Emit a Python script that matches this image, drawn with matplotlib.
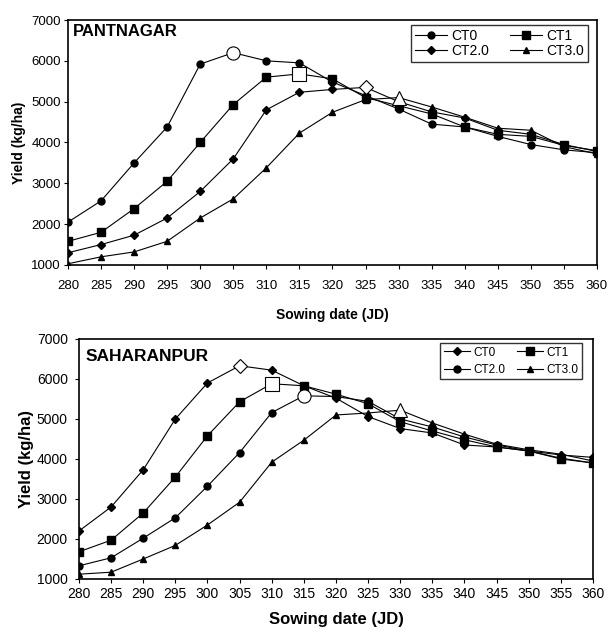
import matplotlib
matplotlib.use("Agg")
from matplotlib import pyplot as plt
import numpy as np

plt.rcParams['font.family'] = ['Liberation Sans', 'DejaVu Sans']

days = [280, 285, 290, 295, 300, 305, 310, 315, 320, 325, 330, 335, 340, 345, 350, 355, 360]

# Pantnagar
pant_ct0 = [2050, 2570, 3500, 4380, 5920, 6200, 6000, 5950, 5480, 5150, 4820, 4450, 4380, 4150, 3950, 3820, 3750]
pant_ct1 = [1580, 1800, 2380, 3050, 4000, 4930, 5600, 5680, 5560, 5100, 4900, 4700, 4380, 4200, 4150, 3930, 3800]
pant_ct2 = [1300, 1500, 1730, 2150, 2800, 3600, 4800, 5230, 5300, 5350, 5000, 4750, 4600, 4300, 4200, 3950, 3780]
pant_ct3 = [1030, 1200, 1320, 1580, 2150, 2620, 3380, 4230, 4740, 5050, 5100, 4870, 4620, 4350, 4300, 3900, 3720]

# Saharanpur
sah_ct0 = [2200, 2800, 3730, 5000, 5900, 6330, 6220, 5830, 5520, 5060, 4760, 4650, 4350, 4300, 4200, 4100, 4040]
sah_ct1 = [1680, 1970, 2650, 3550, 4580, 5430, 5880, 5830, 5620, 5380, 4930, 4700, 4480, 4300, 4200, 4000, 3900]
sah_ct2 = [1330, 1530, 2020, 2530, 3320, 4160, 5160, 5580, 5560, 5440, 5000, 4800, 4550, 4350, 4200, 4020, 3900]
sah_ct3 = [1120, 1170, 1500, 1840, 2350, 2920, 3920, 4470, 5100, 5150, 5220, 4900, 4620, 4370, 4230, 4120, 3950]

labels = ['CT0', 'CT1', 'CT2.0', 'CT3.0']

fig = plt.figure(figsize=(6.08, 6.35), dpi=100)


def draw_panel(ax, series, markers, sizes, title, cfg):
    handles = []
    for vals, lab, mk, ms in zip(series, labels, markers, sizes):
        h, = ax.plot(days, vals, color='black', lw=0.8, marker=mk, ms=ms, label=lab)
        handles.append(h)
        # open marker at the peak yield
        i = int(np.argmax(vals))
        ax.plot(days[i], vals[i], marker=mk, ms=ms * 1.9, mfc='white',
                mec='black', mew=0.8, ls='none')
    ax.set_xlim(280, 360)
    ax.set_ylim(1000, 7000)
    ax.set_xticks(days)
    ax.set_yticks(range(1000, 8000, 1000))
    ax.tick_params(direction='out', length=3, width=0.8, labelsize=cfg['tick'],
                   colors='black')
    ax.tick_params(axis='x', pad=cfg['xpad'])
    ax.tick_params(axis='y', pad=cfg['ypad'])
    for s in ax.spines.values():
        s.set_linewidth(1.2)
    ax.text(cfg['tx'], cfg['ty'], title, transform=ax.transAxes, fontsize=cfg['title'],
            fontweight='bold', va='top', ha='left')
    ax.set_xlabel('Sowing date (JD)', fontsize=cfg['label'], fontweight='bold',
                  labelpad=cfg['xlp'])
    ax.set_ylabel('Yield (kg/ha)', fontsize=cfg['label'], fontweight='bold',
                  labelpad=cfg['ylp'])
    order = [0, 2, 1, 3]
    leg = ax.legend([handles[k] for k in order], [labels[k] for k in order],
                    ncol=2, loc='upper right', fontsize=cfg['leg'], frameon=True,
                    fancybox=False, edgecolor='black', handlelength=cfg['hl'],
                    handletextpad=0.3, columnspacing=cfg['colsp'], borderpad=0.3,
                    labelspacing=cfg['labsp'], borderaxespad=0,
                    bbox_to_anchor=cfg['anchor'])
    leg.get_frame().set_linewidth(1.0)


ax1 = fig.add_axes([0.1118, 0.5827, 0.870, 0.3858])
draw_panel(ax1, [pant_ct0, pant_ct1, pant_ct2, pant_ct3], ['o', 's', 'D', '^'],
           [5, 5.5, 3.8, 5], 'PANTNAGAR',
           dict(tick=9.5, xpad=8, ypad=2, title=12, label=10, xlp=11, ylp=4,
                leg=10, hl=2.3, colsp=1.5, labsp=0.05, tx=0.01, ty=0.985,
                anchor=(0.983, 0.98)))

ax2 = fig.add_axes([0.1299, 0.0882, 0.8454, 0.378])
draw_panel(ax2, [sah_ct0, sah_ct1, sah_ct2, sah_ct3], ['D', 's', 'o', '^'],
           [3.8, 5.5, 5, 5], 'SAHARANPUR',
           dict(tick=10, xpad=3, ypad=5, title=12.5, label=12, xlp=8, ylp=2,
                leg=8.5, hl=2.2, colsp=1.0, labsp=0.45, tx=0.013, ty=0.96,
                anchor=(0.979, 0.983)))

fig.savefig('out.png', dpi=100)
